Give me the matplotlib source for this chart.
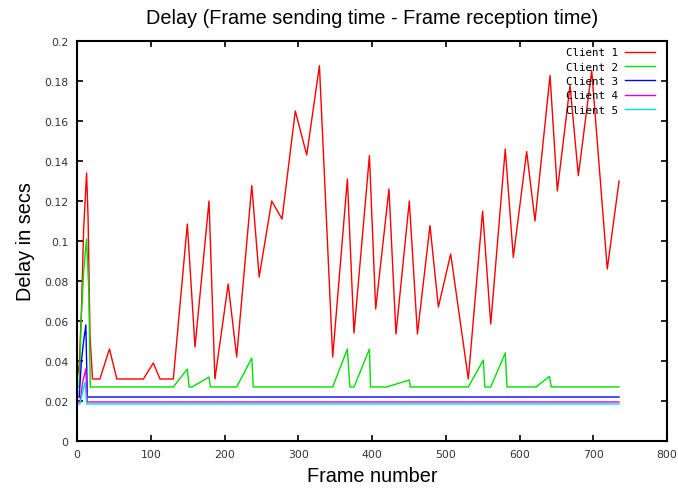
import matplotlib
matplotlib.use("Agg")
import matplotlib.pyplot as plt

# Client 1 (red)
c1_x = [0, 3, 6, 9, 13, 15, 17.6, 21, 31, 44, 54, 90, 103.5, 112.5, 130.6, 149.6, 160, 179, 187,
        205, 216.5, 237, 247, 264, 278, 296, 311.5, 328.7, 346.7, 366.6, 375.6, 396.5, 405, 423,
        432.5, 450.6, 461.6, 478.6, 490, 506.7, 530.6, 550, 561, 580.7, 591.6, 609.7, 621, 641.4,
        651.3, 668.5, 679.8, 697.9, 719, 735]
c1_y = [0.031, 0.038, 0.065, 0.106, 0.134, 0.112, 0.053, 0.031, 0.031, 0.046, 0.031, 0.031, 0.039,
        0.031, 0.031, 0.1085, 0.047, 0.120, 0.031, 0.0785, 0.042, 0.1277, 0.082, 0.120, 0.111,
        0.165, 0.143, 0.1877, 0.042, 0.131, 0.054, 0.1427, 0.066, 0.126, 0.0535, 0.120, 0.0535,
        0.1077, 0.067, 0.0935, 0.031, 0.115, 0.0585, 0.146, 0.0918, 0.1447, 0.110, 0.1827, 0.125,
        0.1777, 0.1327, 0.1852, 0.086, 0.130]

# Client 2 (green)
c2_x = [0, 3, 6, 9, 13, 16, 18, 130.6, 149.6, 152, 156, 179, 181, 216.5, 237, 239, 346.7, 366.6,
        370, 375.6, 396.5, 398, 420, 450.6, 452, 530.6, 551, 553, 561, 580.7, 583, 622.4, 640.6,
        643, 735]
c2_y = [0.027, 0.027, 0.063, 0.085, 0.101, 0.075, 0.027, 0.027, 0.036, 0.027, 0.027, 0.032, 0.027,
        0.027, 0.0415, 0.027, 0.027, 0.046, 0.027, 0.027, 0.046, 0.027, 0.027, 0.0305, 0.027,
        0.027, 0.0405, 0.027, 0.027, 0.044, 0.027, 0.027, 0.0323, 0.027, 0.027]

# Client 3 (blue)
c3_x = [0, 3, 6, 9, 12, 14, 735]
c3_y = [0.022, 0.022, 0.040, 0.050, 0.058, 0.022, 0.022]

# Client 4 (magenta)
c4_x = [0, 4, 8, 12, 14, 735]
c4_y = [0.0195, 0.0195, 0.030, 0.036, 0.0195, 0.0195]

# Client 5 (cyan)
c5_x = [0, 4, 8, 11, 13, 735]
c5_y = [0.0185, 0.0185, 0.025, 0.0295, 0.0185, 0.0185]

labels = ["Client 1", "Client 2", "Client 3", "Client 4", "Client 5"]
colors = ["#ff0000", "#00e000", "#0000ff", "#e000e0", "#00e0e0"]

xticks = [0, 100, 200, 300, 400, 500, 600, 700, 800]
yticks = [0, 0.02, 0.04, 0.06, 0.08, 0.1, 0.12, 0.14, 0.16, 0.18, 0.2]
ytick_labels = ["0", "0.02", "0.04", "0.06", "0.08", "0.1", "0.12", "0.14", "0.16", "0.18", "0.2"]

fig = plt.figure(figsize=(6.78, 4.89), dpi=100)
ax = fig.add_axes([77/678, 1-442/489, 590/678, 400/489])

series = [(c1_x, c1_y), (c2_x, c2_y), (c3_x, c3_y), (c4_x, c4_y), (c5_x, c5_y)]
for (xs, ys), lab, col in zip(series, labels, colors):
    ax.plot(xs, ys, color=col, lw=1.0, label=lab)

ax.set_xlim(0, 800)
ax.set_ylim(0, 0.2)
ax.set_xticks(xticks)
ax.set_xticklabels([str(t) for t in xticks])
ax.set_yticks(yticks)
ax.set_yticklabels(ytick_labels)
ax.tick_params(direction="in", top=True, right=True, length=4, width=1.2,
               labelsize=7.8, labelcolor="#333333", pad=6)
for s in ax.spines.values():
    s.set_linewidth(1.5)

ax.set_title("Delay (Frame sending time - Frame reception time)",
             fontfamily="Liberation Sans", fontsize=14.3, pad=13)
ax.set_xlabel("Frame number", fontfamily="Liberation Sans", fontsize=14.3, labelpad=5)
ax.set_ylabel("Delay in secs", fontfamily="Liberation Sans", fontsize=14.3, labelpad=7)

leg = ax.legend(loc="upper right", bbox_to_anchor=(1 - 12/590, 1 - 6.5/400), frameon=False,
                markerfirst=False, prop={"family": "DejaVu Sans Mono", "size": 7.8},
                handlelength=2.8, handletextpad=0.6, labelspacing=0.4,
                borderaxespad=0, borderpad=0)

fig.savefig("out.png", dpi=100)
